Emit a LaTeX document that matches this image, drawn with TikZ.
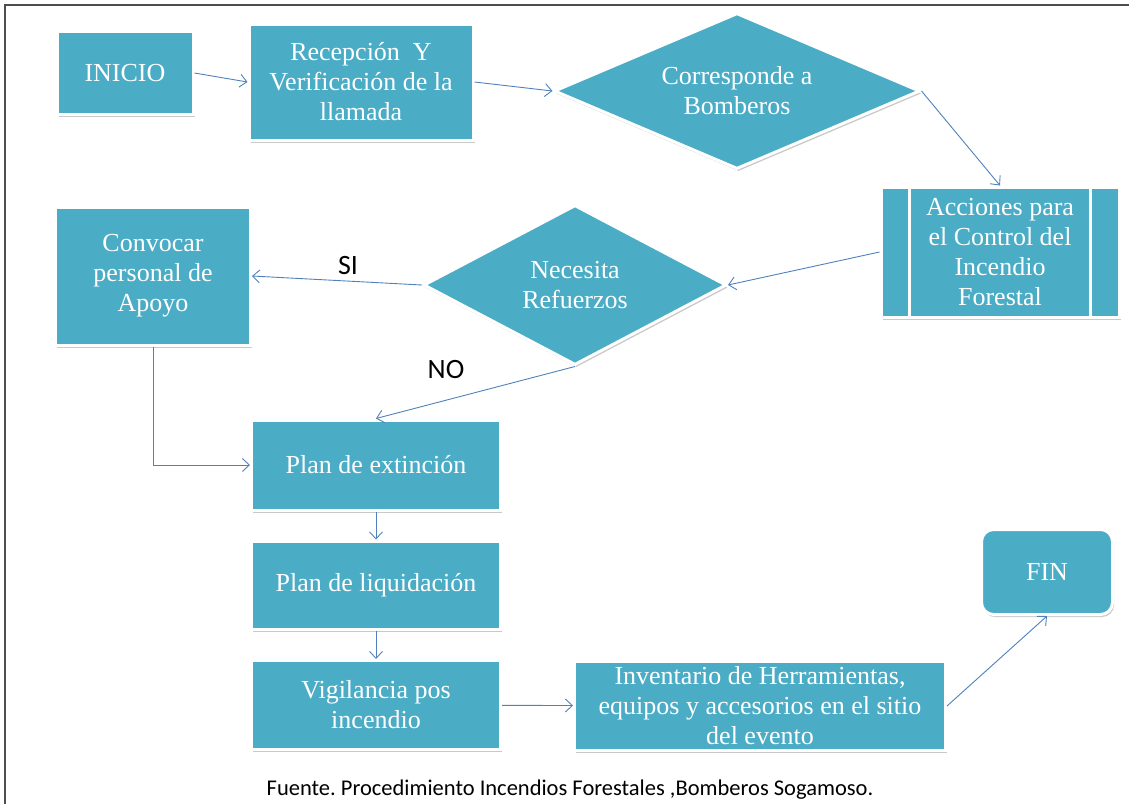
\documentclass[tikz,border=0pt]{standalone}
\usepackage{fontspec}
\setmainfont{Liberation Serif}
\newfontfamily\labelfont{Carlito}
\usetikzlibrary{shapes.geometric,arrows.meta,shadows}
\definecolor{boxfill}{HTML}{4BACC6}
\definecolor{linkblue}{HTML}{4F81BD}
\definecolor{framegray}{HTML}{4D4D4D}
\begin{document}
\begin{tikzpicture}[x=1pt,y=-1pt,
  box/.style={rectangle,fill=boxfill,draw=white,line width=3pt,text=white,align=center,
    inner sep=0pt,font=\fontsize{26}{30}\selectfont,
    drop shadow={shadow xshift=1.5pt,shadow yshift=-2.5pt,opacity=0.3,fill=black!70}},
  choice/.style={box,diamond},
  link/.style={draw=linkblue,line width=0.9pt,-{Straight Barb[length=7pt,width=13pt]}},
  answer/.style={font=\labelfont\fontsize{28}{32}\selectfont}]
\useasboundingbox (0,0) rectangle (1129,804);
\draw[framegray,line width=2pt] (5,804) -- (5,5) -- (1129,5);
\node[box,minimum width=136pt,minimum height=83pt] (inicio) at (125,73) {INICIO};
\node[box,minimum width=224pt,minimum height=116pt] (recep) at (361,82) {Recepción\ \ Y\\Verificación de la\\llamada};
\node[choice,aspect=2.4,minimum width=366pt,minimum height=156pt] (bomb) at (737,91) {Corresponde a\\Bomberos};
\node[box,minimum width=238pt,minimum height=130pt] (acc) at (1000,252) {Acciones para\\el Control del\\Incendio\\Forestal};
\draw[white,line width=3pt] ([xshift=30pt]acc.north west) -- ([xshift=30pt]acc.south west);
\draw[white,line width=3pt] ([xshift=-30pt]acc.north east) -- ([xshift=-30pt]acc.south east);
\node[choice,aspect=1.9,minimum width=303pt,minimum height=160pt] (need) at (575,285) {Necesita\\Refuerzos};
\node[box,minimum width=195pt,minimum height=138pt] (conv) at (153,276) {Convocar\\personal de\\Apoyo};
\node[box,minimum width=249pt,minimum height=90pt] (ext) at (376,465) {Plan de extinción};
\node[box,minimum width=249pt,minimum height=88pt] (liq) at (376,585) {Plan de liquidación};
\node[box,minimum width=249pt,minimum height=89pt] (vig) at (376,705) {Vigilancia pos\\incendio};
\node[box,minimum width=371pt,minimum height=89pt] (inv) at (760,706) {Inventario de Herramientas,\\equipos y accesorios en el sitio\\del evento};
\node[box,rounded corners=12pt,minimum width=131pt,minimum height=85pt] (fin) at (1047,572) {FIN};
\node[answer] (si) at (348,266) {SI};
\node[answer] (no) at (446,370) {NO};
\node[font=\labelfont\fontsize{22.5}{26}\selectfont] (fuente) at (570,790) {Fuente.\ Procedimiento Incendios Forestales ,Bomberos Sogamoso.};
\draw[link] (inicio.east) -- (recep.west);
\draw[link] (recep.east) -- (bomb.west);
\draw[link] (bomb.east) -- (acc.north);
\draw[link] (acc.west) -- (need.east);
\draw[link] (need.west) -- (conv.east);
\draw[link] (need.south) -- (ext.north);
\draw[link] (conv.south) |- (ext.west);
\draw[link] (ext) -- (liq);
\draw[link] (liq) -- (vig);
\draw[link] (vig) -- (inv);
\draw[link] (inv.east) -- (fin.south);
\end{tikzpicture}
\end{document}
